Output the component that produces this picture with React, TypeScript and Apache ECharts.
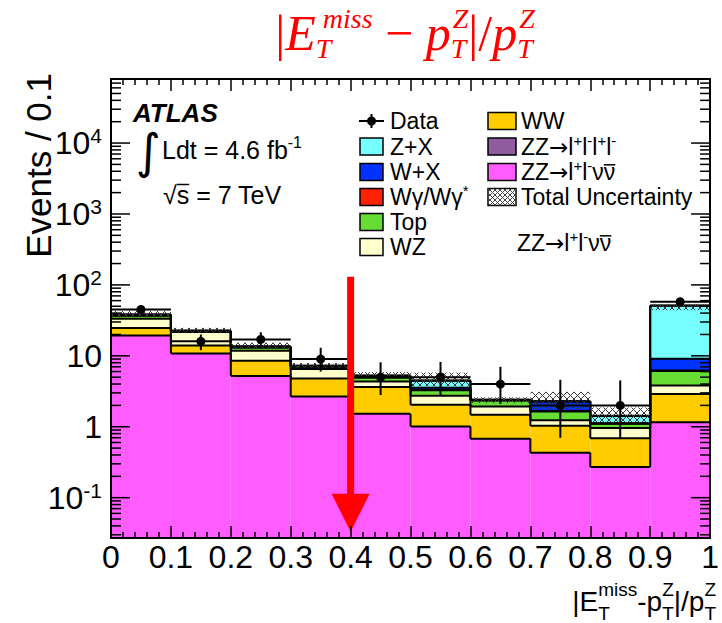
import React, { useEffect, useRef } from 'react';
import * as echarts from 'echarts';

// ---------------- data ----------------
const binEdges = [0, 0.1, 0.2, 0.3, 0.4, 0.5, 0.6, 0.7, 0.8, 0.9, 1.0];
// stacked backgrounds, events per 0.1 bin, drawn bottom -> top
const zzLLNuNu = [19.3, 10.8, 5.2, 2.67, 1.52, 1.01, 0.68, 0.43, 0.27, 1.16];
const wwBkg = [5.3, 3.2, 3.3, 2.13, 2.1, 1.03, 0.8, 0.6, 0.42, 1.73];
const wzBkg = [8.6, 7.6, 3.3, 1.7, 0.72, 0.69, 0.45, 0.2, 0.27, 0.93];
const topBkg = [3.6, 0.6, 1.3, 0.5, 0.6, 0.55, 0.42, 0.41, 0.14, 2.28];
const wGammaBkg = [0.3, 0.1, 0.05, 0.05, 0.05, 0.03, 0.01, 0.03, 0.01, 0.1];
const wPlusX = [0.6, 0.2, 0.2, 0.1, 0.1, 0.25, 0.02, 0.58, 0.02, 2.87];
const zPlusX = [0.6, 0.1, 0.2, 0.1, 0.15, 0.9, 0.02, 0.05, 0.29, 41.9];
const zzLLLL = [0.1, 0.05, 0.05, 0.02, 0.02, 0.02, 0.01, 0.01, 0.01, 0.1];
// total uncertainty band
const uncLow = [35.5, 21.3, 12.6, 6.7, 4.8, 3.7, 2.15, 1.75, 1.13, 44];
const uncHigh = [43, 24.8, 15.3, 7.9, 5.9, 5.8, 2.6, 3.1, 1.87, 54];
// data
const dataCounts = [45, 16, 17, 9, 5, 5, 4, 2, 2, 58];
const dataLow = [38.5, 12, 13, 6, 2.8, 2.8, 2.1, 0.7, 0.69, 50];
const dataHigh = [52, 20, 21.5, 13, 8.1, 8.2, 7.0, 4.6, 4.5, 66];
// axis range and the cut arrow
const Y_MIN = 0.027;
const Y_MAX = 8e4;
const cutValue = 0.4;
const arrowFrom = 130;
const arrowTo = 0.033;

// ---------------- styling ----------------
const SANS = '"Liberation Sans", Arial, Helvetica, sans-serif';
const SERIF = '"Liberation Serif", "Times New Roman", serif';
const DEJAVU = '"DejaVu Sans", sans-serif';
const LAYER_COLORS = ['#ff5cff', '#ffcc00', '#ffffcc', '#66dd33', '#ff2200', '#0033ff', '#77ffff', '#8f5c9f'];
const RED = '#ff0000';

type Tok = {
  t: string; s: number; dy?: number; dx?: number; fam?: string; it?: boolean; b?: boolean; over?: number;
};
type Item = Tok | { sup: Tok; sub: Tok };

let mctx: CanvasRenderingContext2D | null = null;
function fontStr(tk: Tok) {
  return `${tk.it ? 'italic ' : ''}${tk.b ? 'bold ' : ''}${tk.s}px ${tk.fam || SANS}`;
}
function measure(tk: Tok) {
  if (!mctx) mctx = document.createElement('canvas').getContext('2d');
  mctx!.font = fontStr(tk);
  return mctx!.measureText(tk.t).width;
}
function formula(x: number, base: number, items: Item[], color: string, align = 'left', z = 20) {
  const widths = items.map((it: any) =>
    it.sup ? Math.max(measure(it.sup) + (it.sup.dx || 0), measure(it.sub) + (it.sub.dx || 0)) : measure(it) + (it.dx || 0)
  );
  const total = widths.reduce((a, b) => a + b, 0);
  let cx = align === 'left' ? x : align === 'center' ? x - total / 2 : x - total;
  const els: any[] = [];
  const put = (tk: Tok, px: number) => {
    const xx = px + (tk.dx || 0);
    const bb = base + (tk.dy || 0);
    els.push({
      type: 'text', x: xx, y: bb - 0.345 * tk.s, z, silent: true,
      style: { text: tk.t, font: fontStr(tk), fill: color, textAlign: 'left', textVerticalAlign: 'middle', align: 'left', verticalAlign: 'middle' },
    });
    if (tk.over) {
      const w = measure(tk);
      const yy = bb - tk.over * tk.s;
      els.push({ type: 'line', z, silent: true, shape: { x1: xx, y1: yy, x2: xx + w, y2: yy }, style: { stroke: color, lineWidth: 1.5 } });
    }
  };
  items.forEach((it: any, k) => {
    if (it.sup) { put(it.sup, cx); put(it.sub, cx); } else put(it, cx);
    cx += widths[k];
  });
  return els;
}

function hatch(X0: number, Y0: number, X1: number, Y1: number, sp: number) {
  const out: number[][] = [];
  const s1 = Math.floor((Y0 - X1) / sp) * sp;
  for (let c = s1; c <= Y1 - X0; c += sp) {
    const xa = Math.max(X0, Y0 - c), xb = Math.min(X1, Y1 - c);
    if (xb > xa) out.push([xa, xa + c, xb, xb + c]);
  }
  const s2 = Math.floor((X0 + Y0) / sp) * sp;
  for (let c = s2; c <= X1 + Y1; c += sp) {
    const xa = Math.max(X0, c - Y1), xb = Math.min(X1, c - Y0);
    if (xb > xa) out.push([xa, c - xa, xb, c - xb]);
  }
  return out;
}

function buildOption() {
  const layers = [zzLLNuNu, wwBkg, wzBkg, topBkg, wGammaBkg, wPlusX, zPlusX, zzLLLL];
  const nb = binEdges.length - 1;
  let running = new Array(nb).fill(0);
  const fillData: number[][] = [];
  const outlineData: number[][] = [];
  layers.forEach((arr, l) => {
    const lower = running.slice();
    running = running.map((r, i) => r + arr[i]);
    for (let i = 0; i < nb; i++) {
      fillData.push([binEdges[i], binEdges[i + 1], l === 0 ? Y_MIN : lower[i], running[i], l]);
      outlineData.push([binEdges[i], binEdges[i + 1], running[i], i > 0 ? running[i - 1] : running[i], l]);
    }
  });
  const uncData = uncLow.map((lo, i) => [binEdges[i], binEdges[i + 1], lo, uncHigh[i]]);
  const pointData = dataCounts.map((v, i) => [
    (binEdges[i] + binEdges[i + 1]) / 2, v, dataLow[i], dataHigh[i], binEdges[i], binEdges[i + 1],
  ]);
  const tickData: number[][] = [];
  for (let e = -2; e <= 5; e++) {
    for (let m = 1; m <= 9; m++) {
      const v = m * Math.pow(10, e);
      if (v > Y_MIN && v < Y_MAX) tickData.push([0, v, m === 1 ? 1 : 0]);
    }
  }

  const black = { stroke: '#000', lineWidth: 2 };
  const xAxisBase = {
    type: 'value', min: 0, max: 1, interval: 0.1, z: 10,
    axisLine: { show: true, onZero: false, lineStyle: { color: '#000', width: 2 } },
    axisTick: { show: true, inside: true, length: 12, lineStyle: { color: '#000', width: 1.5 } },
    minorTick: { show: true, splitNumber: 5, length: 6, lineStyle: { color: '#000', width: 1.5 } },
    splitLine: { show: false },
  };
  const yAxisBase = {
    type: 'log', logBase: 10, min: Y_MIN, max: Y_MAX, z: 10,
    axisLine: { show: true, onZero: false, lineStyle: { color: '#000', width: 2 } },
    axisTick: { show: false }, minorTick: { show: false }, splitLine: { show: false },
  };

  // ---------------- graphic annotations ----------------
  const g: any[] = [];
  // title
  const TS = 50;
  const sc = 28;
  g.push(...formula(405, 50, [
    { t: '|', s: TS, fam: SERIF },
    { t: 'E', s: TS, fam: SERIF, it: true },
    { sup: { t: 'miss', s: sc, fam: SERIF, it: true, dy: -22, dx: 7 }, sub: { t: 'T', s: sc, fam: SERIF, it: true, dy: 8 } },
    { t: ' − ', s: TS, fam: SERIF },
    { t: 'p', s: TS, fam: SERIF, it: true },
    { sup: { t: 'Z', s: sc, fam: SERIF, it: true, dy: -22, dx: 2 }, sub: { t: 'T', s: sc, fam: SERIF, it: true, dy: 8 } },
    { t: '|/', s: TS, fam: SERIF },
    { t: 'p', s: TS, fam: SERIF, it: true },
    { sup: { t: 'Z', s: sc, fam: SERIF, it: true, dy: -22, dx: 2 }, sub: { t: 'T', s: sc, fam: SERIF, it: true, dy: 8 } },
  ], RED, 'center'));
  // x axis title
  const XB = 28;
  const xs = 19;
  g.push(...formula(716, 611, [
    { t: '|E', s: XB },
    { sup: { t: 'miss', s: xs, dy: -15 }, sub: { t: 'T', s: xs, dy: 9 } },
    { t: '-p', s: XB },
    { sup: { t: 'Z', s: xs, dy: -15 }, sub: { t: 'T', s: xs, dy: 9 } },
    { t: '|/p', s: XB },
    { sup: { t: 'Z', s: xs, dy: -15 }, sub: { t: 'T', s: xs, dy: 9 } },
  ], '#000', 'right'));
  // y axis title
  g.push({
    type: 'text', x: 38, y: 73, rotation: Math.PI / 2, z: 20, silent: true,
    style: { text: 'Events / 0.1', font: `35px ${SANS}`, fill: '#000', textAlign: 'right', textVerticalAlign: 'middle', align: 'right', verticalAlign: 'middle' },
  });
  // ATLAS label
  g.push(...formula(133, 122, [{ t: 'ATLAS', s: 26, b: true, it: true }], '#000'));
  g.push(...formula(136, 168, [{ t: '∫', s: 48, fam: DEJAVU }], '#000'));
  g.push(...formula(162, 159, [{ t: 'Ldt = 4.6 fb', s: 25 }, { t: '-1', s: 16, dy: -11 }], '#000'));
  g.push(...formula(163, 204, [{ t: '√', s: 25 }, { t: 's', s: 25, over: 0.78 }, { t: ' = 7 TeV', s: 25 }], '#000'));

  // legend
  const rows = [121, 146.5, 172, 197, 222, 247];
  const LS = 23;
  const sup = (t: string) => ({ t, s: 15, dy: -9 });
  const l = (t: string) => ({ t, s: LS });
  const arrow = { t: '→', s: LS, fam: DEJAVU };
  const leftItems: { c: number | null; toks: Tok[] }[] = [
    { c: null, toks: [l('Data')] },
    { c: 6, toks: [l('Z+X')] },
    { c: 5, toks: [l('W+X')] },
    { c: 4, toks: [l('Wγ/Wγ'), sup('*')] },
    { c: 3, toks: [l('Top')] },
    { c: 2, toks: [l('WZ')] },
  ];
  leftItems.forEach((it, k) => {
    const y = rows[k];
    if (it.c === null) {
      g.push({ type: 'line', z: 20, silent: true, shape: { x1: 359, y1: y, x2: 384, y2: y }, style: black });
      g.push({ type: 'line', z: 20, silent: true, shape: { x1: 371.5, y1: y - 7, x2: 371.5, y2: y + 7 }, style: black });
      g.push({ type: 'circle', z: 21, silent: true, shape: { cx: 371.5, cy: y, r: 4.5 }, style: { fill: '#000' } });
    } else {
      g.push({ type: 'rect', z: 20, silent: true, shape: { x: 360, y: y - 8.5, width: 23, height: 17 }, style: { fill: LAYER_COLORS[it.c], stroke: '#000', lineWidth: 1.5 } });
    }
    g.push(...formula(390, y + 8, it.toks, '#000'));
  });
  const rightItems: { c: number; toks: Tok[] }[] = [
    { c: 1, toks: [l('WW')] },
    { c: 7, toks: [l('ZZ'), arrow, l('l'), sup('+'), l('l'), sup('-'), l('l'), sup('+'), l('l'), sup('-')] },
    { c: 0, toks: [l('ZZ'), arrow, l('l'), sup('+'), l('l'), sup('-'), l('ν'), { t: 'ν', s: LS, over: 0.66 }] },
    { c: -1, toks: [l('Total Uncertainty')] },
  ];
  rightItems.forEach((it, k) => {
    const y = rows[k];
    const bx = 488, bw = 28, bh = 17, by = y - 8.5;
    if (it.c >= 0) {
      g.push({ type: 'rect', z: 20, silent: true, shape: { x: bx, y: by, width: bw, height: bh }, style: { fill: LAYER_COLORS[it.c], stroke: '#000', lineWidth: 1.5 } });
    } else {
      g.push({ type: 'rect', z: 20, silent: true, shape: { x: bx, y: by, width: bw, height: bh }, style: { fill: '#fff', stroke: '#000', lineWidth: 1.5 } });
      hatch(bx, by, bx + bw, by + bh, 5).forEach((s) =>
        g.push({ type: 'line', z: 20, silent: true, shape: { x1: s[0], y1: s[1], x2: s[2], y2: s[3] }, style: { stroke: '#444', lineWidth: 1 } })
      );
    }
    g.push(...formula(521, y + 8, it.toks, '#000'));
  });
  g.push(...formula(517, 251, [l('ZZ'), arrow, l('l'), sup('+'), l('l'), sup('-'), l('ν'), { t: 'ν', s: LS, over: 0.66 }], '#000'));

  return {
    animation: false,
    backgroundColor: '#fff',
    grid: { left: 111, right: 6, top: 79, bottom: 85, containLabel: false },
    xAxis: [
      { ...xAxisBase, position: 'bottom', axisLabel: { show: true, margin: 3, fontSize: 32, fontFamily: SANS, color: '#000', formatter: (v: number) => String(+v.toFixed(1)) } },
      { ...xAxisBase, position: 'top', axisLabel: { show: false } },
    ],
    yAxis: [
      {
        ...yAxisBase, position: 'left',
        axisLabel: {
          show: true, margin: 9, showMinLabel: false, showMaxLabel: false, color: '#000', fontFamily: SANS, fontSize: 32,
          formatter: (v: number) => {
            const e = Math.round(Math.log10(v));
            if (e === 0) return '{b|1}';
            if (e === 1) return '{b|10}';
            return `{b|10}{e|${e}}`;
          },
          rich: {
            b: { fontSize: 32, fontFamily: SANS, color: '#000', lineHeight: 36 },
            e: { fontSize: 21, fontFamily: SANS, color: '#000', verticalAlign: 'top', lineHeight: 21 },
          },
        },
      },
      { ...yAxisBase, position: 'right', axisLabel: { show: false } },
    ],
    graphic: { elements: g },
    series: [
      {
        type: 'custom', name: 'fills', z: 2, clip: true, data: fillData, encode: { x: [0, 1], y: [2, 3] },
        renderItem: (p: any, api: any) => {
          const a = api.coord([api.value(0), api.value(3)]);
          const b = api.coord([api.value(1), api.value(2)]);
          return { type: 'rect', shape: { x: a[0], y: a[1], width: b[0] - a[0], height: b[1] - a[1] }, style: { fill: LAYER_COLORS[api.value(4)] } };
        },
      },
      {
        type: 'custom', name: 'outlines', z: 3, clip: true, data: outlineData, encode: { x: [0, 1], y: [2, 3] },
        renderItem: (p: any, api: any) => {
          const a = api.coord([api.value(0), api.value(2)]);
          const b = api.coord([api.value(1), api.value(2)]);
          const c = api.coord([api.value(0), api.value(3)]);
          return {
            type: 'group', children: [
              { type: 'line', shape: { x1: a[0], y1: a[1], x2: b[0], y2: b[1] }, style: black },
              { type: 'line', shape: { x1: a[0], y1: c[1], x2: a[0], y2: a[1] }, style: black },
            ],
          };
        },
      },
      {
        type: 'custom', name: 'Total Uncertainty', z: 4, clip: true, data: uncData, encode: { x: [0, 1], y: [2, 3] },
        renderItem: (p: any, api: any) => {
          const a = api.coord([api.value(0), api.value(3)]);
          const b = api.coord([api.value(1), api.value(2)]);
          return {
            type: 'group',
            children: hatch(a[0], a[1], b[0], b[1], 7).map((s) => ({
              type: 'line', shape: { x1: s[0], y1: s[1], x2: s[2], y2: s[3] }, style: { stroke: '#3a3a3a', lineWidth: 1 },
            })),
          };
        },
      },
      {
        type: 'custom', name: 'Data', z: 5, clip: true, data: pointData, encode: { x: 0, y: 1 },
        renderItem: (p: any, api: any) => {
          const c = api.coord([api.value(0), api.value(1)]);
          const lo = api.coord([api.value(0), api.value(2)]);
          const hi = api.coord([api.value(0), api.value(3)]);
          const x0 = api.coord([api.value(4), api.value(1)]);
          const x1 = api.coord([api.value(5), api.value(1)]);
          return {
            type: 'group', children: [
              { type: 'line', shape: { x1: c[0], y1: hi[1], x2: c[0], y2: lo[1] }, style: black },
              { type: 'line', shape: { x1: x0[0], y1: c[1], x2: x1[0], y2: c[1] }, style: black },
              { type: 'circle', shape: { cx: c[0], cy: c[1], r: 4.5 }, style: { fill: '#000' } },
            ],
          };
        },
      },
      {
        type: 'custom', name: 'cut', z: 6, clip: false, data: [[cutValue, arrowFrom, arrowTo]], encode: { x: 0, y: 1 },
        renderItem: (p: any, api: any) => {
          const a = api.coord([api.value(0), api.value(1)]);
          const t = api.coord([api.value(0), api.value(2)]);
          const headLen = 38, half = 19, sw = 7;
          return {
            type: 'group', children: [
              { type: 'rect', shape: { x: a[0] - sw / 2, y: a[1], width: sw, height: t[1] - headLen - a[1] + 1 }, style: { fill: RED } },
              { type: 'polygon', shape: { points: [[a[0] - half, t[1] - headLen], [a[0] + half, t[1] - headLen], [a[0], t[1]]] }, style: { fill: RED } },
            ],
          };
        },
      },
      {
        type: 'custom', name: 'yticks', z: 12, clip: false, data: tickData, encode: { x: 0, y: 1 },
        renderItem: (p: any, api: any) => {
          const v = api.value(1);
          const L = api.coord([0, v]);
          const R = api.coord([1, v]);
          const len = api.value(2) ? 19 : 10;
          const st = { stroke: '#000', lineWidth: 1.5 };
          return {
            type: 'group', children: [
              { type: 'line', shape: { x1: L[0], y1: L[1], x2: L[0] + len, y2: L[1] }, style: st },
              { type: 'line', shape: { x1: R[0] - len, y1: R[1], x2: R[0], y2: R[1] }, style: st },
            ],
          };
        },
      },
    ],
  };
}

export default function App() {
  const ref = useRef<HTMLDivElement>(null);
  useEffect(() => {
    document.body.style.margin = '0';
    const chart = echarts.init(ref.current!, null, { renderer: 'svg' });
    chart.setOption(buildOption() as any);
    return () => chart.dispose();
  }, []);
  return <div ref={ref} style={{ width: 722, height: 623 }} />;
}
